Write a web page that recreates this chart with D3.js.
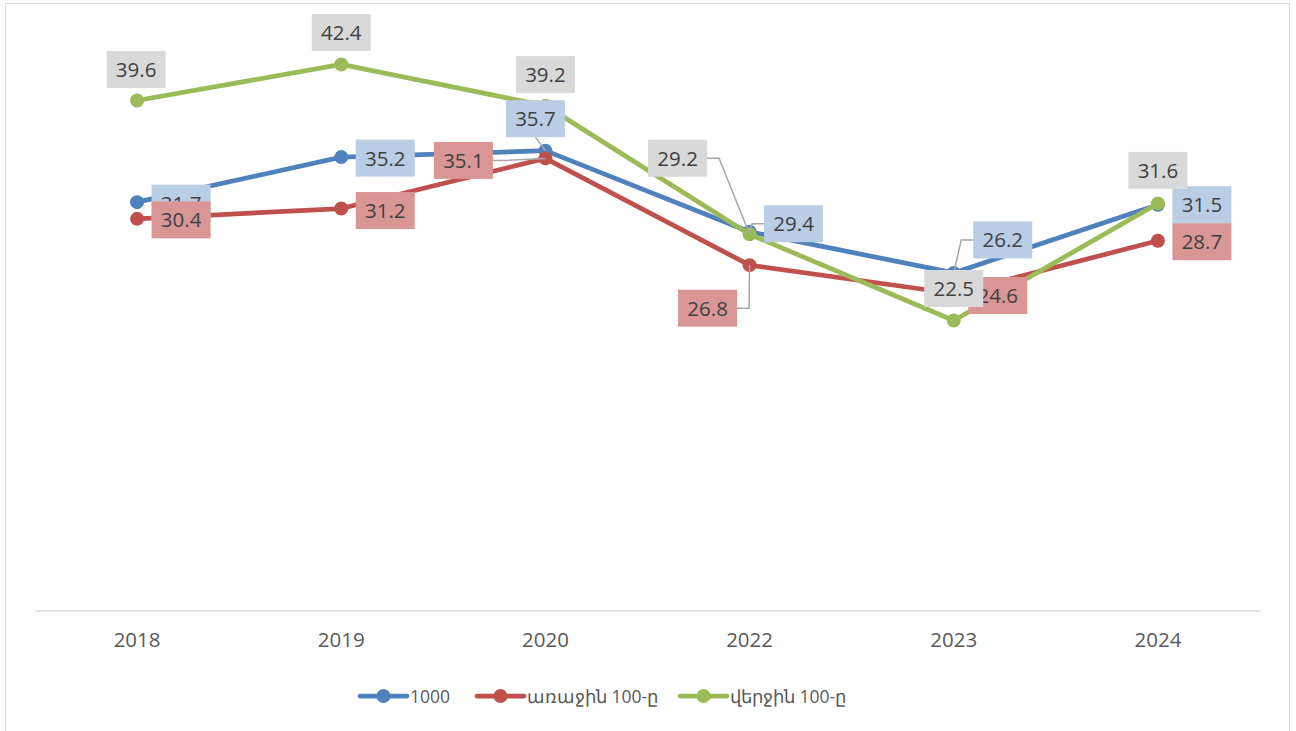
<!DOCTYPE html>
<html>
<head>
<meta charset="utf-8">
<script src="https://cdn.jsdelivr.net/npm/d3@7"></script>
<style>
	body { margin: 0; background: #fff; }
	svg { display: block; font-family: "Open Sans", "Noto Sans", sans-serif; }
</style>
</head>
<body>
<div id="chart"></div>
<script>
const years = ["2018", "2019", "2020", "2022", "2023", "2024"];
const names = ["1000", "առաջին 100-ը", "վերջին 100-ը"];
const total1000 = [31.7, 35.2, 35.7, 29.4, 26.2, 31.5];
const first100 = [30.4, 31.2, 35.1, 26.8, 24.6, 28.7];
const last100 = [39.6, 42.4, 39.2, 29.2, 22.5, 31.6];

const colors = ["#4f81bd", "#c0504d", "#9bbb59"];
const labelFills = ["#b9cde5", "#d99694", "#d9d9d9"];

// label offsets from the point [dx, dy, leader]
const labelLayout = [
	[[44, 1, 0], [44, 1, 0], [-10, -32, 1], [44, -8, 1], [49, -33, 1], [44, 0, 0]],
	[[44, 1, 0], [44, 2, 0], [-82, 2, 1], [-42, 43, 1], [44, 2, 0], [44, 1, 0]],
	[[-1, -31, 0], [0, -32, 0], [0, -31, 0], [-72, -76, 1], [0, -32, 0], [0, -33, 0]]
];

const width = 1296, height = 731;
const series = [total1000, first100, last100].map((vals, i) => ({
	name: names[i], color: colors[i], fill: labelFills[i],
	values: vals.map((v, j) => ({ year: years[j], value: v, layout: labelLayout[i][j] }))
}));

const svg = d3.select("#chart").append("svg")
	.attr("width", width)
	.attr("height", height);

svg.append("rect")
	.attr("x", 5.5).attr("y", 3.5)
	.attr("width", 1284).attr("height", 740)
	.attr("fill", "#fff")
	.attr("stroke", "#d9d9d9");

const x = d3.scaleBand().domain(years).range([35, 1260]);
const y = d3.scaleLinear().domain([0, 45]).range([610, 31]);
const cx = d => x(d.year) + x.bandwidth() / 2;

// category axis
const xAxis = svg.append("g")
	.attr("transform", "translate(0,610.5)")
	.call(d3.axisBottom(x).tickSize(0).tickPadding(22));
xAxis.select(".domain").attr("stroke", "#d9d9d9").attr("stroke-width", 1.3);
xAxis.selectAll("text")
	.attr("fill", "#595959")
	.style("font-size", "20.5px")
	.style("font-family", "\"Open Sans\", \"Noto Sans\", sans-serif");

const line = d3.line().x(cx).y(d => y(d.value));

series.forEach(s => {
	svg.append("path")
		.datum(s.values)
		.attr("d", line)
		.attr("fill", "none")
		.attr("stroke", s.color)
		.attr("stroke-width", 4.75)
		.attr("stroke-linejoin", "round")
		.attr("stroke-linecap", "round");
	svg.append("g").selectAll("circle")
		.data(s.values)
		.enter()
		.append("circle")
		.attr("cx", cx)
		.attr("cy", d => y(d.value))
		.attr("r", 7)
		.attr("fill", s.color);
});

// data labels
const boxW = 59, boxH = 37;
series.forEach(s => {
	const g = svg.append("g");
	s.values.forEach(d => {
		const px = cx(d), py = y(d.value);
		const lx = px + d.layout[0], ly = py + d.layout[1];
		if (d.layout[2]) {
			let pts;
			if (px > lx + boxW / 2) {
				pts = [[lx + boxW / 2, ly], [lx + boxW / 2 + 12, ly], [px, py]];
			} else if (px < lx - boxW / 2) {
				pts = [[lx - boxW / 2, ly], [lx - boxW / 2 - 12, ly], [px, py]];
			} else if (py > ly) {
				pts = [[lx, ly + boxH / 2], [px, py]];
			} else {
				pts = [[lx, ly - boxH / 2], [px, py]];
			}
			g.append("path")
				.attr("d", d3.line()(pts))
				.attr("fill", "none")
				.attr("stroke", "#a6a6a6")
				.attr("stroke-width", 1.5);
		}
		g.append("rect")
			.attr("x", lx - boxW / 2)
			.attr("y", ly - boxH / 2)
			.attr("width", boxW)
			.attr("height", boxH)
			.attr("fill", s.fill);
		g.append("text")
			.attr("x", lx)
			.attr("y", ly + 7.5)
			.attr("text-anchor", "middle")
			.attr("fill", "#404040")
			.style("font-size", "20.5px")
			.text(d.value.toFixed(1));
	});
});

// legend
const legendX = [360, 477, 680];
const legend = svg.append("g");
series.forEach((s, i) => {
	const lg = legend.append("g").attr("transform", `translate(${legendX[i]},696)`);
	lg.append("line")
		.attr("x1", 0).attr("x2", 47)
		.attr("stroke", s.color)
		.attr("stroke-width", 4.75)
		.attr("stroke-linecap", "round");
	lg.append("circle").attr("cx", 23.5).attr("r", 7).attr("fill", s.color);
	lg.append("text")
		.attr("x", 50)
		.attr("y", 6.5)
		.attr("fill", "#595959")
		.style("font-size", "17.5px")
		.text(s.name);
});
</script>
</body>
</html>
